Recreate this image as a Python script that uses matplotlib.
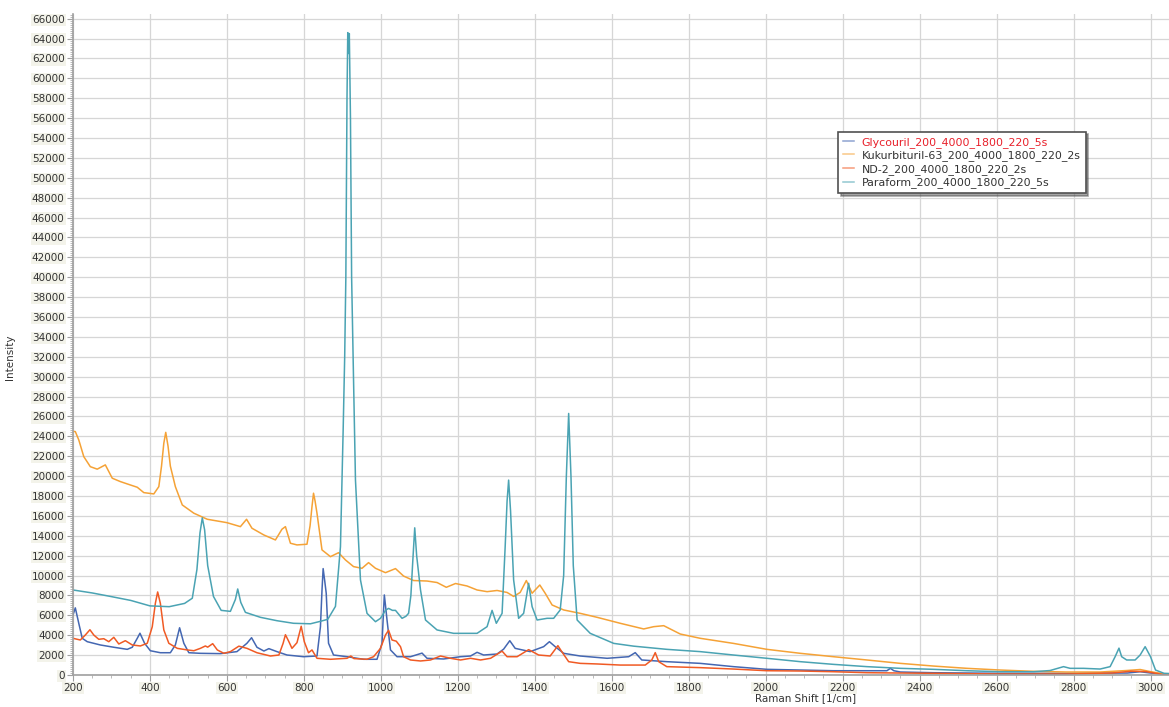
import matplotlib
matplotlib.use("Agg")
import matplotlib.pyplot as plt
from matplotlib.ticker import MultipleLocator

# Raman spectra, points
glyc_x = [200, 206, 215, 224, 237, 271, 306, 341, 354, 367, 374, 386, 401, 427, 453, 466, 477, 488, 501,
          531, 583, 626, 652, 664, 678, 696, 709, 730, 756, 799, 834, 843, 847, 850, 854, 858, 864, 877,
          912, 955, 990, 1003, 1007, 1009, 1012, 1016, 1025, 1042, 1077, 1107, 1120, 1163, 1207, 1233,
          1250, 1267, 1302, 1319, 1335, 1349, 1388, 1423, 1438, 1453, 1475, 1518, 1588, 1644, 1661, 1678,
          1743, 1830, 1916, 2003, 2090, 2176, 2263, 2315, 2324, 2333, 2350, 2436, 2609, 2782, 2940, 2973,
          3000, 3048]
glyc_y = [6040, 6750, 5200, 3690, 3350, 3020, 2790, 2580, 2790, 3690, 4200, 3190, 2440, 2240, 2240, 3020,
          4750, 3190, 2240, 2180, 2150, 2350, 3190, 3750, 2790, 2410, 2650, 2350, 2010, 1840, 1910, 4860,
          8500, 10700, 9500, 8220, 3190, 2010, 1840, 1580, 1580, 3190, 6500, 8050, 7000, 5530, 2520, 1840,
          1840, 2200, 1680, 1610, 1840, 1910, 2280, 2010, 2110, 2600, 3450, 2680, 2350, 2850, 3350, 2850,
          2180, 1910, 1680, 1840, 2250, 1510, 1340, 1170, 840, 570, 500, 430, 430, 430, 670, 430, 300, 230,
          170, 170, 200, 330, 200, 80]

kuk_x = [200, 206, 215, 228, 245, 263, 284, 302, 323, 349, 367, 384, 410, 423, 430, 436, 441, 447, 453,
         466, 484, 514, 549, 600, 635, 651, 665, 696, 726, 743, 752, 765, 782, 808, 816, 821, 825, 829,
         834, 847, 869, 890, 908, 929, 951, 968, 986, 1012, 1038, 1059, 1085, 1120, 1146, 1170, 1194,
         1224, 1250, 1276, 1302, 1328, 1345, 1362, 1378, 1393, 1413, 1427, 1445, 1475, 1518, 1562, 1622,
         1683, 1709, 1735, 1778, 1830, 1916, 2003, 2090, 2176, 2263, 2350, 2436, 2523, 2609, 2696, 2782,
         2869, 2938, 2973, 3000, 3035, 3048]
kuk_y = [24500, 24480, 23640, 21960, 20950, 20700, 21130, 19790, 19450, 19110, 18880, 18340, 18210, 18940,
         21000, 23310, 24400, 23000, 21000, 18940, 17100, 16270, 15660, 15320, 14920, 15660, 14760, 14080,
         13580, 14660, 14920, 13250, 13080, 13150, 15000, 16930, 18280, 17500, 16270, 12580, 11900, 12300,
         11570, 10900, 10730, 11300, 10730, 10290, 10700, 9950, 9500, 9450, 9300, 8820, 9200, 8950, 8550,
         8380, 8500, 8300, 7900, 8300, 9500, 8220, 9050, 8220, 7040, 6540, 6200, 5800, 5200, 4630, 4860,
         4960, 4120, 3690, 3180, 2580, 2180, 1840, 1510, 1170, 900, 670, 500, 370, 300, 300, 450, 550,
         340, 100, 80]

nd_x = [200, 219, 232, 244, 254, 267, 280, 293, 306, 319, 336, 354, 375, 393, 406, 414, 420, 427, 436,
        449, 471, 497, 514, 531, 544, 550, 563, 575, 592, 609, 631, 652, 678, 713, 735, 746, 752, 761,
        769, 782, 793, 801, 812, 821, 834, 869, 912, 922, 930, 964, 981, 999, 1012, 1020, 1029, 1040,
        1051, 1059, 1077, 1103, 1129, 1155, 1181, 1207, 1233, 1259, 1285, 1315, 1328, 1354, 1384, 1410,
        1440, 1453, 1460, 1470, 1488, 1518, 1562, 1622, 1687, 1704, 1713, 1722, 1743, 1830, 1916, 2003,
        2090, 2176, 2263, 2436, 2609, 2782, 2900, 2950, 2989, 3035, 3048]
nd_y = [3690, 3520, 4020, 4550, 4020, 3590, 3650, 3350, 3790, 3120, 3450, 3020, 2920, 3190, 4860, 7210,
        8350, 7210, 4530, 3190, 2680, 2520, 2440, 2680, 2920, 2800, 3150, 2520, 2180, 2350, 2900, 2680,
        2240, 1910, 2010, 3190, 4050, 3350, 2680, 3250, 4900, 3350, 2240, 2520, 1680, 1580, 1680, 1910,
        1650, 1580, 1840, 2680, 4020, 4500, 3520, 3400, 2850, 1840, 1510, 1410, 1510, 1910, 1680, 1510,
        1680, 1510, 1680, 2400, 1840, 1840, 2550, 2010, 1910, 2580, 2950, 2350, 1340, 1170, 1110, 1000,
        1000, 1510, 2250, 1340, 840, 740, 600, 430, 400, 330, 230, 170, 100, 100, 200, 380, 340, 20, 0]

para_x = [200, 250, 300, 350, 400, 450, 490, 510, 522, 530, 536, 542, 550, 565, 585, 609, 622, 628, 636,
          648, 687, 730, 773, 817, 843, 862, 882, 895, 902, 906, 909, 912, 914, 916, 918, 921, 924, 929,
          934, 947, 964, 986, 999, 1012, 1020, 1030, 1038, 1055, 1065, 1072, 1078, 1083, 1088, 1093, 1103,
          1116, 1146, 1189, 1250, 1276, 1289, 1300, 1315, 1323, 1328, 1332, 1337, 1345, 1358, 1371, 1384,
          1393, 1406, 1432, 1449, 1466, 1475, 1482, 1488, 1494, 1500, 1510, 1544, 1605, 1657, 1743, 1830,
          1916, 2003, 2090, 2176, 2263, 2350, 2436, 2523, 2609, 2696, 2739, 2774, 2791, 2826, 2869, 2895,
          2908, 2918, 2925, 2938, 2960, 2973, 2986, 3000, 3013, 3035, 3048]
para_y = [8550, 8250, 7880, 7500, 6950, 6870, 7200, 7720, 10600, 14300, 15800, 14600, 11000, 7900, 6500,
          6400, 7600, 8650, 7300, 6300, 5800, 5460, 5200, 5150, 5400, 5600, 6900, 12900, 24600, 32000,
          40000, 58000, 64600, 62500, 64500, 56000, 40000, 29700, 19600, 9560, 6200, 5360, 5700, 6500,
          6700, 6500, 6500, 5700, 5900, 6200, 8000, 11500, 14800, 12000, 8550, 5530, 4530, 4190, 4190,
          4860, 6500, 5200, 6200, 12900, 17500, 19600, 16500, 9560, 5700, 6200, 9220, 6870, 5530, 5700,
          5700, 6540, 10000, 20000, 26300, 20000, 11000, 5530, 4190, 3180, 2900, 2580, 2350, 2010, 1680,
          1340, 1070, 840, 670, 570, 430, 330, 330, 450, 840, 670, 670, 600, 840, 1840, 2700, 1840, 1510,
          1510, 2010, 2850, 1840, 500, 170, 150]

names = ["Glycouril_200_4000_1800_220_5s",
         "Kukurbituril-63_200_4000_1800_220_2s",
         "ND-2_200_4000_1800_220_2s",
         "Paraform_200_4000_1800_220_5s"]
colors = ["#4467b2", "#f5a236", "#f05a24", "#4aa3b3"]

fig = plt.figure(figsize=(11.69, 7.07), dpi=100)
ax = fig.add_axes([73 / 1169, 32 / 707, 1096 / 1169, 661 / 707])

for xs, ys, name, c in zip([glyc_x, kuk_x, nd_x, para_x], [glyc_y, kuk_y, nd_y, para_y], names, colors):
    ax.plot(xs, ys, color=c, lw=1.1, label=name)

ax.set_xlim(200, 3048)
ax.set_ylim(0, 66470)
ax.xaxis.set_major_locator(MultipleLocator(200))
ax.xaxis.set_minor_locator(MultipleLocator(50))
ax.yaxis.set_major_locator(MultipleLocator(2000))
ax.yaxis.set_minor_locator(MultipleLocator(200))

ax.grid(True, which="major", color="#d6d6d6", lw=0.9)
ax.set_axisbelow(True)
for side in ["top", "right"]:
    ax.spines[side].set_visible(False)
for side in ["left", "bottom"]:
    ax.spines[side].set_color("#a0a0a0")
    ax.spines[side].set_linewidth(1.2)

ax.tick_params(which="major", length=4, color="#a0a0a0", labelsize=7.5, labelcolor="#333333", pad=2)
ax.tick_params(which="minor", length=2, color="#b0b0b0")
for lab in ax.get_xticklabels() + ax.get_yticklabels():
    lab.set_bbox(dict(facecolor="#f3f3ea", edgecolor="none", pad=0.8))

ax.set_xlabel("Raman Shift [1/cm]", fontsize=7.5, color="#333333", labelpad=0)
ax.xaxis.set_label_coords(0.668, -0.028)
ax.set_ylabel("Intensity", fontsize=7.5, color="#333333")
ax.yaxis.set_label_coords(-0.053, 0.48)

leg = ax.legend(loc="upper left", bbox_to_anchor=(0.698, 0.822), fontsize=7.9, frameon=True,
                fancybox=False, shadow=True, handlelength=1.0, handletextpad=0.7,
                labelspacing=0.25, borderpad=0.45, borderaxespad=0)
leg.get_frame().set_edgecolor("#505050")
leg.get_frame().set_linewidth(1.2)
for h in leg.get_lines():
    h.set_alpha(0.6)
for i, t in enumerate(leg.get_texts()):
    t.set_color("#e8202a" if i == 0 else "#333333")

fig.savefig("out.png", dpi=100)
